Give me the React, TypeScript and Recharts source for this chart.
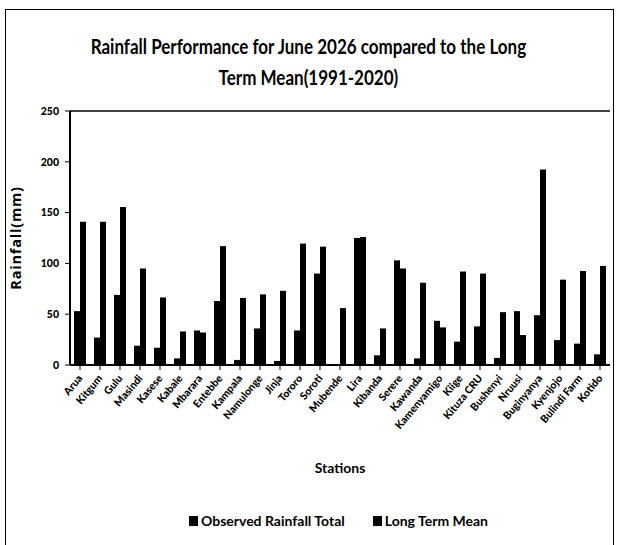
import React from 'react';
import { BarChart, Bar, XAxis, YAxis, ReferenceLine } from 'recharts';

const stations = [
  'Arua', 'Kitgum', 'Gulu', 'Masindi', 'Kasese', 'Kabale', 'Mbarara', 'Entebbe', 'Kampala',
  'Namulonge', 'Jinja', 'Tororo', 'Soroti', 'Mubende', 'Lira', 'Kibanda', 'Serere', 'Kawanda',
  'Kamenyamigo', 'Kiige', 'Kituza CRU', 'Bushenyi', 'Nruusi', 'Buginyanya', 'Kyenjojo',
  'Bulindi Farm', 'Kotido',
];

const observed = [
  53, 27, 69, 19, 17, 6.5, 34, 63, 5, 36, 4, 34, 90, 0, 125, 9.5, 103, 6.5, 43.5, 23, 38, 7,
  53, 49, 24.5, 21, 10.5,
];

const longTermMean = [
  141, 141, 155.5, 95, 66.5, 33, 32, 117, 66, 69.5, 73, 119.5, 116.5, 56, 126, 36, 95, 81, 37,
  92, 90, 52, 29.5, 192.5, 84, 92.5, 97.5,
];

const yTicks = [0, 50, 100, 150, 200, 250];

const data = stations.map((name, i) => ({
  name,
  observed: observed[i],
  ltm: longTermMean[i],
}));

const FONT = 'Lato, "Open Sans", sans-serif';

const StationTick = ({ x, y, payload }: any) => (
  <g transform={`translate(${x},${y + 4})`}>
    <text
      x={0}
      y={0}
      dy={4}
      textAnchor="end"
      transform="rotate(-50)"
      fontFamily={FONT}
      fontWeight={900}
      fontSize={10.5}
      fill="#000"
    >
      {payload.value}
    </text>
  </g>
);

export default function App() {
  return (
    <div
      style={{
        position: 'absolute',
        left: 0,
        top: 0,
        width: 617,
        height: 545,
        background: '#fff',
        fontFamily: FONT,
        overflow: 'hidden',
      }}
    >
      <div
        style={{
          position: 'absolute',
          left: 5,
          top: 9,
          width: 607,
          height: 560,
          borderLeft: '1.5px solid #000',
          borderTop: '1.5px solid #000',
          borderRight: '1.5px solid #000',
        }}
      />
      <div
        style={{
          position: 'absolute',
          left: 0,
          top: 30,
          width: 617,
          textAlign: 'center',
          fontWeight: 'bold',
          fontSize: 21,
          lineHeight: '31px',
          color: '#000',
          transform: 'scaleX(0.81)',
          transformOrigin: '308px 0',
        }}
      >
        Rainfall Performance for June 2026 compared to the Long
        <br />
        Term Mean(1991-2020)
      </div>

      <div style={{ position: 'absolute', left: 0, top: 0 }}>
        <BarChart
          width={617}
          height={545}
          data={data}
          margin={{ top: 111, right: 7, left: 0, bottom: 0 }}
          barGap={0}
          barCategoryGap={4}
        >
          <XAxis
            dataKey="name"
            interval={0}
            height={180}
            tick={<StationTick />}
            tickSize={5}
            axisLine={{ stroke: '#000', strokeWidth: 2 }}
            tickLine={{ stroke: '#000' }}
            label={{
              value: 'Stations',
              position: 'insideBottom',
              offset: 72,
              fill: '#000',
              fontWeight: 'bold',
              fontSize: 14,
              fontFamily: FONT,
            }}
          />
          <YAxis
            domain={[0, 250]}
            ticks={yTicks}
            width={70}
            tickSize={5}
            tickMargin={6}
            axisLine={{ stroke: '#000', strokeWidth: 2 }}
            tickLine={{ stroke: '#000' }}
            tick={{ fill: '#000', fontWeight: 900, fontSize: 10.5, fontFamily: FONT }}
            label={{
              value: 'Rainfall(mm)',
              angle: -90,
              position: 'insideLeft',
              offset: 16,
              fill: '#000',
              fontWeight: 'bold',
              fontSize: 14.5,
              fontFamily: '"Open Sans", sans-serif',
              letterSpacing: 0.8,
              style: { textAnchor: 'middle' },
            }}
          />
          <YAxis
            yAxisId="right"
            orientation="right"
            domain={[0, 250]}
            width={0}
            tick={false}
            tickLine={false}
            axisLine={{ stroke: '#000', strokeWidth: 1.5 }}
          />
          <ReferenceLine y={250} stroke="#000" strokeWidth={1.5} />
          <Bar dataKey="observed" name="Observed Rainfall Total" fill="#000" barSize={6} isAnimationActive={false} />
          <Bar dataKey="ltm" name="Long Term Mean" fill="#000" barSize={6} isAnimationActive={false} />
        </BarChart>
      </div>

      <div
        style={{
          position: 'absolute',
          left: 0,
          top: 512,
          width: 617,
          display: 'flex',
          justifyContent: 'center',
          gap: 28,
          fontWeight: 'bold',
          fontSize: 14,
          color: '#000',
          paddingLeft: 60,
          boxSizing: 'border-box',
        }}
      >
        <span style={{ display: 'flex', alignItems: 'center' }}>
          <span style={{ width: 9, height: 10, background: '#000', marginRight: 3, display: 'inline-block' }} />
          Observed Rainfall Total
        </span>
        <span style={{ display: 'flex', alignItems: 'center' }}>
          <span style={{ width: 9, height: 10, background: '#000', marginRight: 3, display: 'inline-block' }} />
          Long Term Mean
        </span>
      </div>
    </div>
  );
}
